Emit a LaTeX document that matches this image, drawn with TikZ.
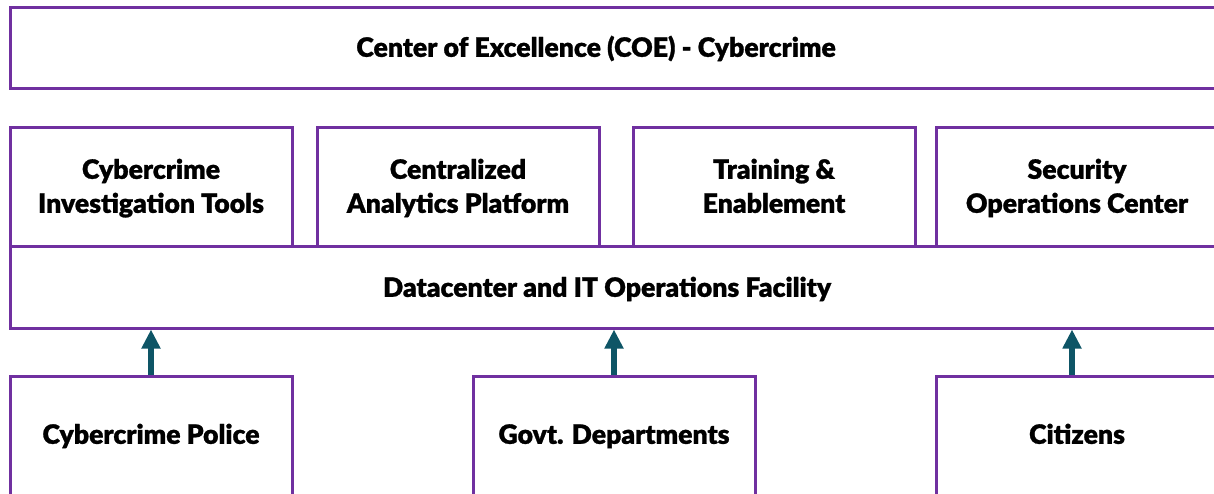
\documentclass[tikz,border=0pt]{standalone}
\usepackage{fontspec}
\setmainfont{Lato}[UprightFont=* Black, UprightFeatures={FakeBold=1}]
\usetikzlibrary{arrows.meta}
\definecolor{boxpurple}{RGB}{112,48,160}
\definecolor{arrteal}{RGB}{14,85,102}
\newcommand\txline[1]{\strut#1}
\tikzset{
  box/.style={draw=boxpurple, line width=3pt, rectangle, inner sep=0pt},
  lbl/.style={text=black, align=center, font=\fontsize{26.6}{34}\selectfont, inner sep=0pt},
  upar/.style={draw=arrteal, line width=6pt, -{Triangle[width=18pt,length=19pt]}}
}
\begin{document}
\begin{tikzpicture}[x=1pt,y=-1pt]
\useasboundingbox (0,0) rectangle (1214,493);
\clip (0,0) rectangle (1214,493);
% top banner
\node[box, minimum width=1208pt, minimum height=81pt] (coe) at (614,48) {};
\node[lbl] (coeT) at (596,50) {\txline{Center of Excellence (COE) - Cybercrime}};
% second row
\node[box, minimum width=282pt, minimum height=119pt] (cit1) at (151,187) {};
\node[box, minimum width=282pt, minimum height=119pt] (cap) at (458,187) {};
\node[box, minimum width=282pt, minimum height=119pt] (tre) at (774,187) {};
\node[box, minimum width=282pt, minimum height=119pt] (soc) at (1077,187) {};
\node[lbl] (cit1T) at (151,189) {\txline{Cybercrime}\\\txline{Investigation Tools}};
\node[lbl] (capT) at (458,189) {\txline{Centralized}\\\txline{Analytics Platform}};
\node[lbl] (treT) at (774,189) {\txline{Training \&}\\\txline{Enablement}};
\node[lbl] (socT) at (1077,189) {\txline{Security}\\\txline{Operations Center}};
% datacenter
\node[box, minimum width=1208pt, minimum height=82pt] (dc) at (614,287) {};
\node[lbl] (dcT) at (607,290) {\txline{Datacenter and IT Operations Facility}};
% bottom row
\node[box, minimum width=282pt, minimum height=140pt] (pol) at (151,446) {};
\node[box, minimum width=282pt, minimum height=140pt] (gov) at (614,446) {};
\node[box, minimum width=282pt, minimum height=140pt] (citz) at (1077,446) {};
\node[lbl] (polT) at (151,437) {\txline{Cybercrime Police}};
\node[lbl] (govT) at (614,437) {\txline{Govt. Departments}};
\node[lbl] (citzT) at (1077,437) {\txline{Citizens}};
% arrows
\draw[upar] (pol.north) -- (pol.north |- dc.south);
\draw[upar] (gov.north) -- (gov.north |- dc.south);
\draw[upar] ([xshift=-5pt]citz.north) -- ([xshift=-5pt]citz.north |- dc.south);
\end{tikzpicture}
\end{document}
